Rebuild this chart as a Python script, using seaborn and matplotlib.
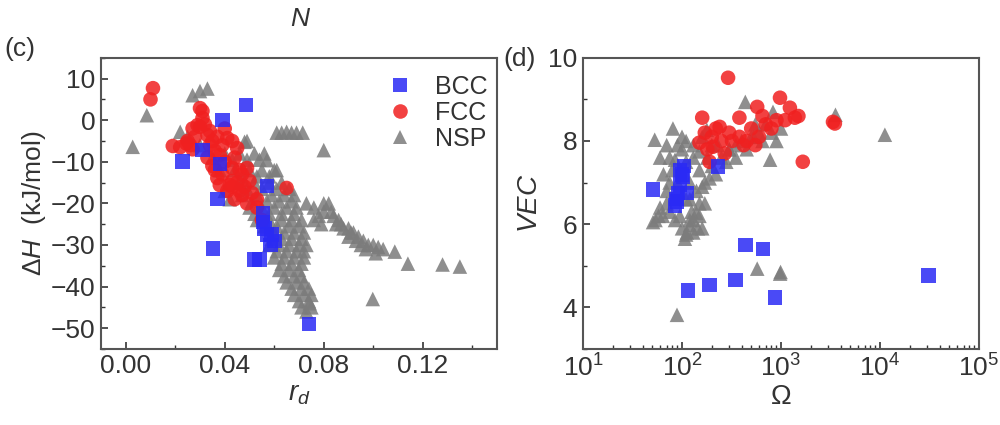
import pandas as pd
import matplotlib
matplotlib.use('Agg')
import matplotlib.pyplot as plt
from matplotlib.ticker import MultipleLocator, LogLocator, NullFormatter
import seaborn as sns

# ---- panel (c): r_d vs dH ----
bcc_rd = [0.0485, 0.039, 0.031, 0.023, 0.038, 0.057, 0.037, 0.0352, 0.052, 0.054,
          0.0555, 0.0555, 0.056, 0.057, 0.059, 0.060, 0.0585, 0.074]
bcc_dh = [3.6, 0.0, -7.2, -10.0, -10.5, -15.8, -19.0, -30.9, -33.5, -33.5,
          -22.5, -24.5, -26.0, -27.5, -27.5, -29.0, -30.0, -49.0]

fcc_rd = [0.011, 0.010, 0.030, 0.031, 0.029, 0.030, 0.034, 0.033, 0.041, 0.019,
          0.0245, 0.025, 0.036, 0.045, 0.038, 0.043, 0.049, 0.050, 0.043, 0.038,
          0.037, 0.042, 0.046, 0.065, 0.043, 0.053, 0.053, 0.047, 0.040, 0.035,
          0.032, 0.028, 0.022, 0.027, 0.044, 0.048, 0.051, 0.055, 0.036, 0.033,
          0.031, 0.040, 0.046,
          0.039, 0.041, 0.045, 0.047, 0.049, 0.044, 0.035, 0.034, 0.037, 0.039,
          0.043, 0.027, 0.026]
fcc_dh = [7.7, 5.0, 2.9, 2.2, -1.2, -1.6, -2.6, -3.6, -4.3, -6.2,
          -5.6, -5.0, -7.4, -6.7, -8.4, -11.5, -11.5, -14.6, -14.6, -15.6,
          -13.9, -15.6, -17.0, -16.3, -16.0, -19.0, -21.0, -13.0, -10.0, -5.0,
          -1.0, -4.0, -6.5, -7.0, -9.0, -16.0, -17.5, -24.0, -12.0, -9.0,
          0.5, -2.0, -12.0,
          -13.0, -17.0, -15.0, -18.0, -20.0, -19.0, -11.0, -6.0, -4.0, -6.0,
          -5.0, -2.0, -6.0]

nsp_rd = [0.0028, 0.0085, 0.027, 0.030, 0.033, 0.022, 0.061, 0.063, 0.065, 0.067,
          0.069, 0.0715, 0.080, 0.048, 0.049, 0.057, 0.061, 0.1087, 0.114, 0.128,
          0.135, 0.0998, 0.0743, 0.073,
          0.073, 0.076, 0.078, 0.080, 0.082, 0.084, 0.086, 0.088, 0.090, 0.092,
          0.094, 0.096, 0.098, 0.100, 0.102, 0.104, 0.090, 0.085, 0.095,
          0.083, 0.087, 0.091, 0.093, 0.097, 0.101, 0.080, 0.076, 0.079,
          0.040, 0.046, 0.052, 0.056, 0.044, 0.050, 0.055, 0.060,
          0.046, 0.052, 0.058, 0.063, 0.047, 0.053, 0.059, 0.064, 0.068,
          0.050, 0.055, 0.060, 0.065, 0.069, 0.053, 0.058, 0.063, 0.067, 0.071,
          0.060, 0.064, 0.068, 0.072, 0.058, 0.062, 0.066, 0.070, 0.073,
          0.060, 0.064, 0.068, 0.072, 0.062, 0.066, 0.070, 0.065, 0.069, 0.072,
          0.068, 0.072, 0.075, 0.071, 0.075,
          0.043, 0.049, 0.054, 0.047, 0.053, 0.058,
          0.049, 0.055, 0.061, 0.066, 0.051, 0.057, 0.062, 0.067,
          0.052, 0.058, 0.063, 0.068, 0.056, 0.061, 0.066, 0.070,
          0.059, 0.063, 0.067, 0.071, 0.061, 0.065, 0.069, 0.072,
          0.063, 0.067, 0.071, 0.064, 0.068, 0.071, 0.067, 0.071, 0.074,
          0.070, 0.074,
          0.025, 0.030, 0.035, 0.038, 0.040, 0.042]
nsp_dh = [-6.4, 1.2, 6.0, 7.0, 7.6, -2.8, -3.0, -3.0, -2.8, -3.0,
          -3.0, -3.0, -7.2, -5.2, -5.0, -9.6, -12.0, -31.6, -34.5, -34.7,
          -35.2, -43.0, -44.0, -46.0,
          -20.0, -21.0, -23.0, -20.0, -20.0, -23.0, -24.0, -26.0, -26.0, -27.0,
          -28.0, -29.0, -30.0, -30.0, -30.5, -31.0, -28.0, -25.0, -30.0,
          -22.0, -25.0, -27.0, -29.0, -31.0, -32.0, -22.0, -24.0, -25.0,
          -8.0, -8.0, -8.0, -8.0, -12.0, -12.0, -12.0, -12.0,
          -15.0, -15.0, -15.0, -15.0, -18.0, -18.0, -18.0, -18.0, -18.0,
          -21.0, -21.0, -21.0, -21.0, -21.0, -24.0, -24.0, -24.0, -24.0, -24.0,
          -27.0, -27.0, -27.0, -27.0, -30.0, -30.0, -30.0, -30.0, -30.0,
          -33.0, -33.0, -33.0, -33.0, -36.0, -36.0, -36.0, -39.0, -39.0, -39.0,
          -42.0, -42.0, -42.0, -45.0, -45.0,
          -9.5, -9.5, -9.5, -13.5, -13.5, -13.5,
          -16.5, -16.5, -16.5, -16.5, -19.5, -19.5, -19.5, -19.5,
          -22.5, -22.5, -22.5, -22.5, -25.5, -25.5, -25.5, -25.5,
          -28.5, -28.5, -28.5, -28.5, -31.5, -31.5, -31.5, -31.5,
          -34.5, -34.5, -34.5, -37.5, -37.5, -37.5, -40.5, -40.5, -40.5,
          -43.5, -43.5,
          -4.0, -6.0, -9.0, -12.0, -17.0, -19.0]

# ---- panel (d): Omega vs VEC ----
bcc_om = [51, 95, 102, 91, 112, 89, 230, 100, 95, 85, 105, 88,
          436, 660, 115, 190, 345, 870, 31000]
bcc_vec = [6.83, 7.3, 7.14, 6.75, 6.75, 6.54, 7.38, 7.2, 6.95, 6.45, 7.4, 6.6,
           5.5, 5.4, 4.4, 4.54, 4.66, 4.23, 4.76]

fcc_om = [292, 3350, 3500, 1660, 977, 1230, 575, 1380, 160, 150, 205, 380,
          380, 240, 190, 170, 200, 250, 300, 450, 500, 600, 700, 800,
          180, 420, 550, 900, 1100, 650, 320, 270, 220, 1500]
fcc_vec = [9.52, 8.46, 8.42, 7.5, 9.04, 8.8, 8.82, 8.56, 8.56, 7.96, 7.86, 8.1,
           8.56, 8.34, 7.5, 8.2, 8.1, 8.0, 8.2, 8.0, 8.3, 8.1, 8.4, 8.3,
           7.8, 7.9, 7.9, 8.5, 8.5, 8.6, 8.0, 7.7, 8.3, 8.6]

nsp_om = [53, 81, 436, 776, 830, 11200, 3550, 89, 575, 980, 990,
          51, 54, 58, 120, 107, 145, 112, 130, 110, 140, 70, 75, 80, 85,
          100, 130, 150, 170, 140, 120, 90, 110, 60, 70, 100, 200, 250, 300,
          400, 500, 600, 700, 900, 800, 350, 170, 125, 95, 65, 150,
          110, 130, 160, 120, 150, 64, 178, 300, 525,
          60, 75, 85, 150, 160, 190, 220, 180, 230, 280, 350, 450, 650,
          75, 110, 130, 160, 90, 70, 200, 550, 1000, 120, 100]
nsp_vec = [8.03, 8.3, 8.94, 7.55, 8.7, 8.15, 8.63, 3.82, 4.93, 4.81, 4.85,
           6.05, 6.1, 6.2, 5.98, 5.65, 5.9, 5.8, 6.1, 6.6, 6.27, 6.5, 7.0, 7.3, 7.55,
           7.8, 7.6, 7.3, 7.0, 6.8, 7.0, 7.9, 8.0, 7.6, 7.9, 8.1, 7.4, 7.6, 7.8,
           8.0, 8.1, 8.2, 8.4, 8.0, 8.2, 7.6, 6.5, 6.3, 6.2, 7.2, 7.75,
           5.75, 5.8, 5.9, 6.1, 6.2, 6.2, 8.27, 7.8, 8.1,
           6.4, 6.3, 6.1, 6.5, 6.9, 7.1, 7.2, 7.6, 7.9, 7.5, 7.9, 7.8, 8.0,
           7.6, 7.5, 7.9, 8.1, 7.0, 6.8, 7.9, 8.4, 8.3, 6.6, 5.9]

phases = ['BCC', 'FCC', 'NSP']
colors = {'BCC': '#2a2af5', 'FCC': '#f02020', 'NSP': '#7c7c7c'}
marks = {'BCC': 's', 'FCC': 'o', 'NSP': '^'}


def make_df(xs, ys, xname, yname):
    # NSP drawn first, BCC last (on top)
    parts = []
    for ph in ['NSP', 'FCC', 'BCC']:
        parts.append(pd.DataFrame({xname: xs[ph], yname: ys[ph], 'phase': ph}))
    return pd.concat(parts, ignore_index=True)


df_c = make_df({'BCC': bcc_rd, 'FCC': fcc_rd, 'NSP': nsp_rd},
               {'BCC': bcc_dh, 'FCC': fcc_dh, 'NSP': nsp_dh}, 'rd', 'dH')
df_d = make_df({'BCC': bcc_om, 'FCC': fcc_om, 'NSP': nsp_om},
               {'BCC': bcc_vec, 'FCC': fcc_vec, 'NSP': nsp_vec}, 'omega', 'VEC')

sns.set_style('white')
plt.rcParams['font.family'] = ['Liberation Sans', 'DejaVu Sans']
plt.rcParams['mathtext.fontset'] = 'custom'
plt.rcParams['mathtext.rm'] = 'Liberation Sans'
plt.rcParams['mathtext.it'] = 'Liberation Sans:italic'

fig = plt.figure(figsize=(10, 4.25), dpi=100)
ax1 = fig.add_axes([0.101, 0.179, 0.396, 0.685])
ax2 = fig.add_axes([0.583, 0.179, 0.396, 0.685])

sns.scatterplot(data=df_c, x='rd', y='dH', hue='phase', style='phase',
                hue_order=phases, style_order=phases, palette=colors,
                markers=marks, s=110, alpha=0.85, linewidth=0, ax=ax1)
sns.scatterplot(data=df_d, x='omega', y='VEC', hue='phase', style='phase',
                hue_order=phases, style_order=phases, palette=colors,
                markers=marks, s=110, alpha=0.85, linewidth=0, ax=ax2,
                legend=False)

ax1.set_xlim(-0.01, 0.15)
ax1.set_ylim(-55, 15)
ax1.set_xticks([0.00, 0.04, 0.08, 0.12])
ax1.set_xticklabels(['0.00', '0.04', '0.08', '0.12'])
ax1.set_yticks([10, 0, -10, -20, -30, -40, -50])
ax1.xaxis.set_minor_locator(MultipleLocator(0.02))
ax1.yaxis.set_minor_locator(MultipleLocator(5))
ax1.set_xlabel(r'$r_d$', fontsize=20, labelpad=2)
ax1.set_ylabel(r'$\Delta H$  (kJ/mol)', fontsize=19, labelpad=2)

ax2.set_xscale('log')
ax2.set_xlim(10, 1e5)
ax2.set_ylim(3, 10)
ax2.set_yticks([4, 6, 8, 10])
ax2.yaxis.set_minor_locator(MultipleLocator(1))
ax2.xaxis.set_major_locator(LogLocator(base=10, numticks=10))
ax2.xaxis.set_minor_locator(LogLocator(base=10, subs=range(2, 10), numticks=20))
ax2.xaxis.set_minor_formatter(NullFormatter())
ax2.set_xlabel(r'$\Omega$', fontsize=20, labelpad=2)
ax2.set_ylabel(r'$VEC$', fontsize=20, labelpad=4)

for ax in (ax1, ax2):
    ax.tick_params(which='major', direction='in', length=5, width=1.2,
                   labelsize=19, pad=4, color='#333333', labelcolor='#333333',
                   left=True, bottom=True)
    ax.tick_params(which='minor', direction='in', length=3, width=1.0,
                   color='#333333', left=True, bottom=True)
    for sp in ax.spines.values():
        sp.set_color('#555555')
        sp.set_linewidth(1.5)
    ax.xaxis.label.set_color('#333333')
    ax.yaxis.label.set_color('#333333')

leg = ax1.legend(loc='upper left', bbox_to_anchor=(0.66, 0.985), frameon=False,
                 fontsize=18, handletextpad=0.4, labelspacing=0.08,
                 borderpad=0, markerscale=1.0)
for t in leg.get_texts():
    t.set_color('#333333')

fig.text(0.300, 0.955, 'N', fontsize=19, style='italic', ha='center',
         va='center', color='#333333')
fig.text(0.020, 0.885, '(c)', fontsize=19, ha='center', va='center',
         color='#333333')
fig.text(0.520, 0.862, '(d)', fontsize=19, ha='center', va='center',
         color='#333333')

fig.savefig('out.png', dpi=100)
